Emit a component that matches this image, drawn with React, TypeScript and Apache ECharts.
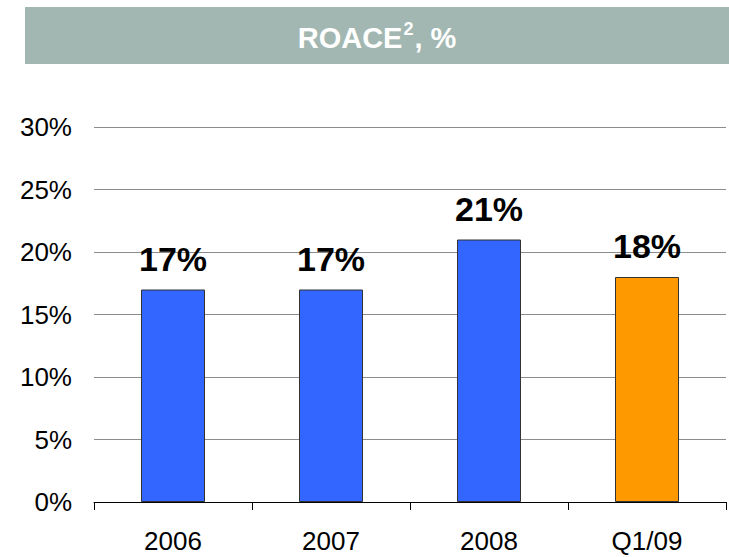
import React, { useEffect, useRef } from "react";
import * as echarts from "echarts";

const categories = ["2006", "2007", "2008", "Q1/09"];
const roaceValues = [17, 17, 21, 18];
const barColors = ["#3366ff", "#3366ff", "#3366ff", "#ff9900"];
const yTicks = { min: 0, max: 30, interval: 5 };
const titleMain = "ROACE";
const titleSup = "2";
const titleTail = ", %";

const FONT = "'Liberation Sans', Arial, Helvetica, sans-serif";

export default function App() {
  const ref = useRef<HTMLDivElement>(null);
  useEffect(() => {
    if (!ref.current) return;
    const chart = echarts.init(ref.current, undefined, { renderer: "svg" });
    chart.setOption({
      animation: false,
      backgroundColor: "#ffffff",
      textStyle: { fontFamily: FONT },
      graphic: [
        {
          type: "rect",
          shape: { x: 25, y: 7, width: 704, height: 57 },
          style: { fill: "#a2b7b1" },
          silent: true,
        },
        {
          type: "text",
          x: 377,
          y: 36,
          style: {
            text: `{m|${titleMain}}{s|${titleSup}}{m|${titleTail}}`,
            textAlign: "center",
            textVerticalAlign: "middle",
            rich: {
              m: {
                fill: "#ffffff",
                color: "#ffffff",
                fontSize: 29,
                fontWeight: "bold",
                fontFamily: FONT,
                lineHeight: 32,
                verticalAlign: "bottom",
              },
              s: {
                fill: "#ffffff",
                color: "#ffffff",
                fontSize: 18,
                fontWeight: "bold",
                fontFamily: FONT,
                lineHeight: 20,
                verticalAlign: "top",
                padding: [0, 1, 0, 1],
              },
            },
          },
          silent: true,
        },
      ],
      grid: { left: 94, right: 3, top: 127, bottom: 55, containLabel: false },
      xAxis: {
        type: "category",
        data: categories,
        boundaryGap: true,
        axisLine: { show: true, lineStyle: { color: "#000000", width: 1 } },
        axisTick: { show: true, length: 8, alignWithLabel: false, lineStyle: { color: "#000000" } },
        axisLabel: { color: "#000000", fontSize: 26, fontFamily: FONT, margin: 26 },
        splitLine: { show: false },
      },
      yAxis: {
        type: "value",
        min: yTicks.min,
        max: yTicks.max,
        interval: yTicks.interval,
        axisLine: { show: false },
        axisTick: { show: false },
        axisLabel: { color: "#000000", fontSize: 26, fontFamily: FONT, margin: 22, formatter: "{value}%" },
        splitLine: { show: true, lineStyle: { color: "#8c8c8c", width: 1 } },
      },
      series: [
        {
          type: "bar",
          barWidth: 64,
          data: roaceValues.map((v, i) => ({
            value: v,
            itemStyle: { color: barColors[i], borderColor: "#333333", borderWidth: 1 },
          })),
          label: {
            show: true,
            position: "top",
            distance: 14,
            formatter: "{c}%",
            color: "#000000",
            fontSize: 34,
            fontWeight: "bold",
            fontFamily: FONT,
          },
        },
      ],
    });
    return () => chart.dispose();
  }, []);
  return (
    <div
      ref={ref}
      style={{ position: "fixed", left: 0, top: 0, width: 729, height: 557 }}
    />
  );
}
